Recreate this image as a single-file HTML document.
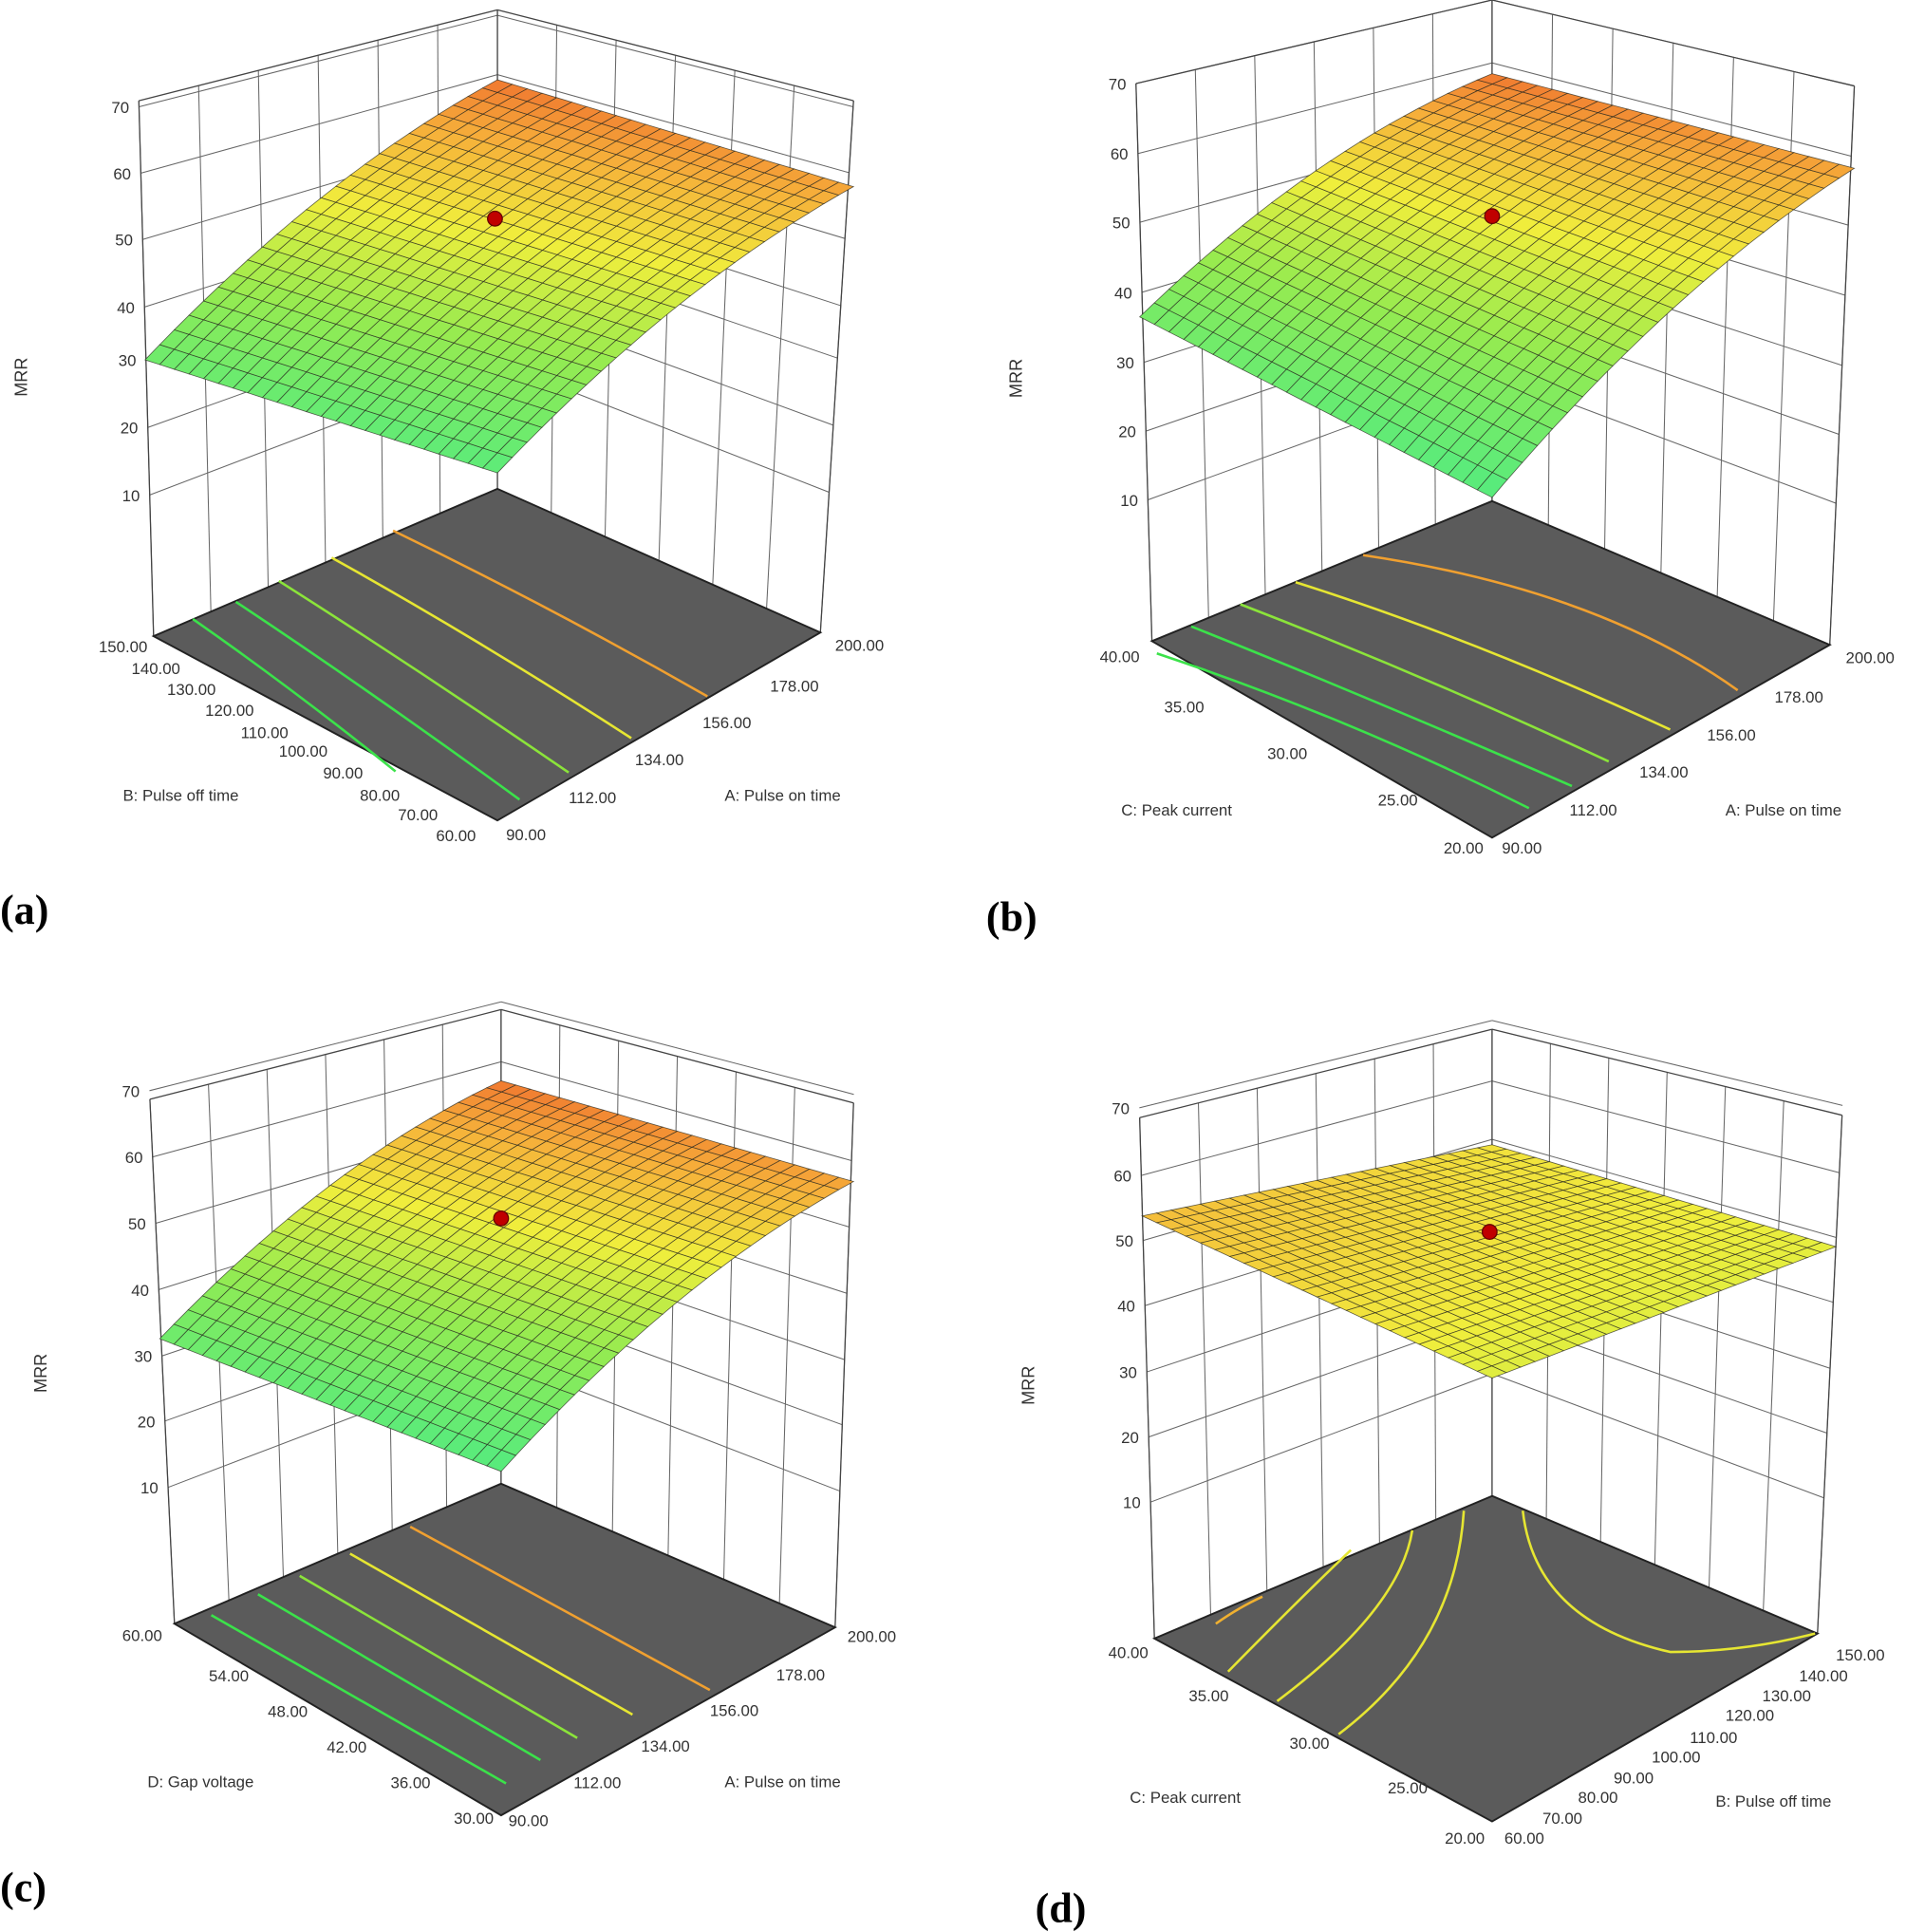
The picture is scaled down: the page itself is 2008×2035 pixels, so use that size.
<!DOCTYPE html>
<html><head><meta charset="utf-8"><style>
html,body{margin:0;padding:0;background:#fff;}
svg{display:block;}
text{font-family:"Liberation Sans","DejaVu Sans",sans-serif;fill:#333;}
.pl{font-family:"Liberation Serif",serif;font-weight:bold;fill:#000;font-size:34px;}
</style></head><body>
<svg id="s" width="2008" height="2035" viewBox="0 0 1552 1573" xmlns="http://www.w3.org/2000/svg">
<text class="pl" x="0" y="752">(a)</text>
<text class="pl" x="803" y="758">(b)</text>
<text class="pl" x="0" y="1548">(c)</text>
<text class="pl" x="843" y="1565">(d)</text>
</svg>
<script>
const S=document.getElementById('s');const NS='http://www.w3.org/2000/svg';
function el(t,a,txt){const e=document.createElementNS(NS,t);for(const k in a)e.setAttribute(k,a[k]);if(txt!==undefined)e.textContent=txt;S.appendChild(e);return e;}
function L(p,q,t){return [p[0]+(q[0]-p[0])*t,p[1]+(q[1]-p[1])*t];}
function line(p,q,c,w){el('line',{x1:p[0],y1:p[1],x2:q[0],y2:q[1],stroke:c||'#444','stroke-width':w||1});}
const stops=[[0,[80,235,130]],[0.3,[150,235,80]],[0.55,[240,238,60]],[0.8,[246,176,58]],[1,[240,120,48]]];
function col(t){t=Math.max(0,Math.min(1,t));for(let i=1;i<stops.length;i++){if(t<=stops[i][0]){const a=stops[i-1],b=stops[i];const f=(t-a[0])/(b[0]-a[0]);return 'rgb('+a[1].map((v,j)=>Math.round(v+(b[1][j]-v)*f)).join(',')+')';}}return 'rgb(240,120,48)';}
function panel(c){
 const Lt=c.Lt,Lb=c.Lb,Ct=c.Ct,Cb=c.Cb,Rt=c.Rt,Rb=c.Rb;
 function zf(y){return (Lb[1]-y)/(Lb[1]-Lt[1]);}
 for(let i=0;i<7;i++){const y=c.zt[i];const f=zf(y);
   const pl=[Lt[0]+(Lb[0]-Lt[0])*(1-f),y];
   const pc=[Ct[0],Cb[1]-(Cb[1]-Ct[1])*f];
   const pr=[Rb[0]+(Rt[0]-Rb[0])*f,Rb[1]-(Rb[1]-Rt[1])*f];
   line(pl,pc,'#666',0.8);line(pc,pr,'#666',0.8);
   el('text',{x:pl[0]-8,y:y+5,'font-size':13,'text-anchor':'end'},String(70-10*i));}
 for(let i=0;i<=6;i++){const t=i/6;line(L(Lt,Ct,t),L(Lb,Cb,t),'#666',0.8);line(L(Ct,Rt,t),L(Cb,Rb,t),'#666',0.8);}
 line(Lt,Ct,'#444',1);line(Ct,Rt,'#444',1);line(Lt,Lb,'#444',1);line(Rt,Rb,'#444',1);line(Ct,Cb,'#444',1);
 el('polygon',{points:[Cb,Lb,c.F,Rb].map(p=>p.join(',')).join(' '),fill:'#5b5b5b',stroke:'#222','stroke-width':1.5});
 for(const ct of c.cont){el('path',{d:ct[0],fill:'none',stroke:ct[1],'stroke-width':2});}
 const N=24,s=c.s;
 function P(u,v){const a=L(s.f,s.r,u),b=L(s.l,s.b,u);const p=L(a,b,v);p[1]-=s.bulge*4*u*(1-u);return p;}
 function T(u,v){return (s.t[0]*(1-u)+s.t[1]*u)*(1-v)+(s.t[2]*(1-u)+s.t[3]*u)*v;}
 for(let j=N-1;j>=0;j--){for(let i=0;i<N;i++){const u0=i/N,u1=(i+1)/N,v0=j/N,v1=(j+1)/N;
  const pts=[P(u0,v0),P(u1,v0),P(u1,v1),P(u0,v1)];
  el('polygon',{points:pts.map(p=>p[0].toFixed(1)+','+p[1].toFixed(1)).join(' '),fill:col(T((u0+u1)/2,(v0+v1)/2)),stroke:'#2a2a20','stroke-width':0.6,'stroke-opacity':0.75});}}
 el('circle',{cx:c.dot[0],cy:c.dot[1],r:6,fill:'#c00000',stroke:'#600',"stroke-width":1});
 el('text',{x:c.mrr[0],y:c.mrr[1],'font-size':14,transform:`rotate(-90 ${c.mrr[0]} ${c.mrr[1]})`,'text-anchor':'middle'},'MRR');
 for(const t of c.labels)el('text',{x:t[0],y:t[1],'font-size':t[3]||13,'text-anchor':t[4]||'start'},t[2]);
}
panel({Lt:[113,82],Lb:[125,518],Ct:[405,8],Cb:[405,398],Rt:[695,82],Rb:[668,515],F:[405,668],
 zt:[87,141,195,250,293,348,403],
 s:{f:[405,385],r:[695,152],l:[118,293],b:[405,65],bulge:18,t:[0.05,0.85,0.12,1]},dot:[403,178],mrr:[22,307],
 cont:[['M157,504 Q240,562 322,628','#3be24a'],['M192,490 Q305,565 423,651','#3be24a'],['M227,473 Q345,548 463,629','#8be43a'],['M270,454 Q392,522 514,601','#e6e632'],['M320,432 Q450,495 576,567','#f0a030']],
 labels:[[120,531,'150.00',13,'end'],[107,549,'140.00'],[136,566,'130.00'],[167,583,'120.00'],[196,601,'110.00'],[227,616,'100.00'],[263,634,'90.00'],[293,652,'80.00'],[324,668,'70.00'],[355,685,'60.00'],[100,652,'B: Pulse off time'],
 [412,684,'90.00'],[463,654,'112.00'],[517,623,'134.00'],[572,593,'156.00'],[627,563,'178.00'],[680,530,'200.00'],[590,652,'A: Pulse on time']]});
panel({Lt:[925,68],Lb:[938,522],Ct:[1215,0],Cb:[1215,408],Rt:[1510,70],Rb:[1490,525],F:[1215,682],
 zt:[68,125,181,238,295,351,407],
 s:{f:[1215,405],r:[1510,137],l:[928,258],b:[1215,60],bulge:20,t:[0.02,0.85,0.15,1]},dot:[1215,176],mrr:[832,308],
 cont:[['M942,532 Q1100,585 1245,658','#3be24a'],['M970,510 Q1120,570 1280,640','#3be24a'],['M1010,492 Q1160,550 1310,620','#8be43a'],['M1055,474 Q1200,520 1360,594','#e6e632'],['M1110,452 Q1300,480 1415,562','#f0a030']],
 labels:[[928,539,'40.00',13,'end'],[948,580,'35.00'],[1032,618,'30.00'],[1122,656,'25.00'],[1208,695,'20.00',13,'end'],[913,664,'C: Peak current'],
 [1223,695,'90.00'],[1278,664,'112.00'],[1335,633,'134.00'],[1390,603,'156.00'],[1445,572,'178.00'],[1503,540,'200.00'],[1405,664,'A: Pulse on time']]});
panel({Lt:[122,895],Lb:[142,1322],Ct:[408,822],Cb:[408,1208],Rt:[695,898],Rb:[680,1325],F:[408,1478],
 zt:[888,942,996,1050,1104,1157,1211],
 s:{f:[408,1198],r:[695,962],l:[130,1090],b:[408,880],bulge:20,t:[0.02,0.85,0.12,1]},dot:[408,992],mrr:[38,1118],
 cont:[['M172,1315 L412,1452','#3be24a'],['M210,1298 L440,1433','#3be24a'],['M244,1283 L470,1415','#8be43a'],['M285,1265 L515,1396','#e6e632'],['M334,1243 L578,1376','#f0a030']],
 labels:[[132,1336,'60.00',13,'end'],[170,1369,'54.00'],[218,1398,'48.00'],[266,1427,'42.00'],[318,1456,'36.00'],[402,1485,'30.00',13,'end'],[120,1455,'D: Gap voltage'],
 [414,1487,'90.00'],[467,1456,'112.00'],[522,1426,'134.00'],[578,1397,'156.00'],[632,1368,'178.00'],[690,1337,'200.00'],[590,1455,'A: Pulse on time']]});
panel({Lt:[928,910],Lb:[940,1334],Ct:[1215,838],Cb:[1215,1218],Rt:[1500,908],Rb:[1480,1330],F:[1215,1483],
 zt:[902,957,1010,1063,1117,1170,1223],
 s:{f:[1215,1122],r:[1495,1015],l:[930,990],b:[1215,932],bulge:0,t:[0.5,0.52,0.75,0.6]},dot:[1213,1003],mrr:[842,1128],
 cont:[['M990,1322 Q1010,1308 1028,1300','#f0b030'],['M1000,1361 Q1060,1300 1100,1262','#e6e632'],['M1040,1385 Q1140,1310 1150,1246','#e6e632'],['M1090,1412 Q1185,1340 1192,1230','#e6e632'],['M1240,1230 Q1250,1320 1360,1345 Q1420,1345 1478,1330','#e6e632']],
 labels:[[935,1350,'40.00',13,'end'],[968,1385,'35.00'],[1050,1424,'30.00'],[1130,1460,'25.00'],[1209,1501,'20.00',13,'end'],[920,1468,'C: Peak current'],
 [1225,1501,'60.00'],[1256,1485,'70.00'],[1285,1468,'80.00'],[1314,1452,'90.00'],[1345,1435,'100.00'],[1376,1419,'110.00'],[1405,1401,'120.00'],[1435,1385,'130.00'],[1465,1369,'140.00'],[1495,1352,'150.00'],[1397,1471,'B: Pulse off time']]});
</script>
</body></html>
